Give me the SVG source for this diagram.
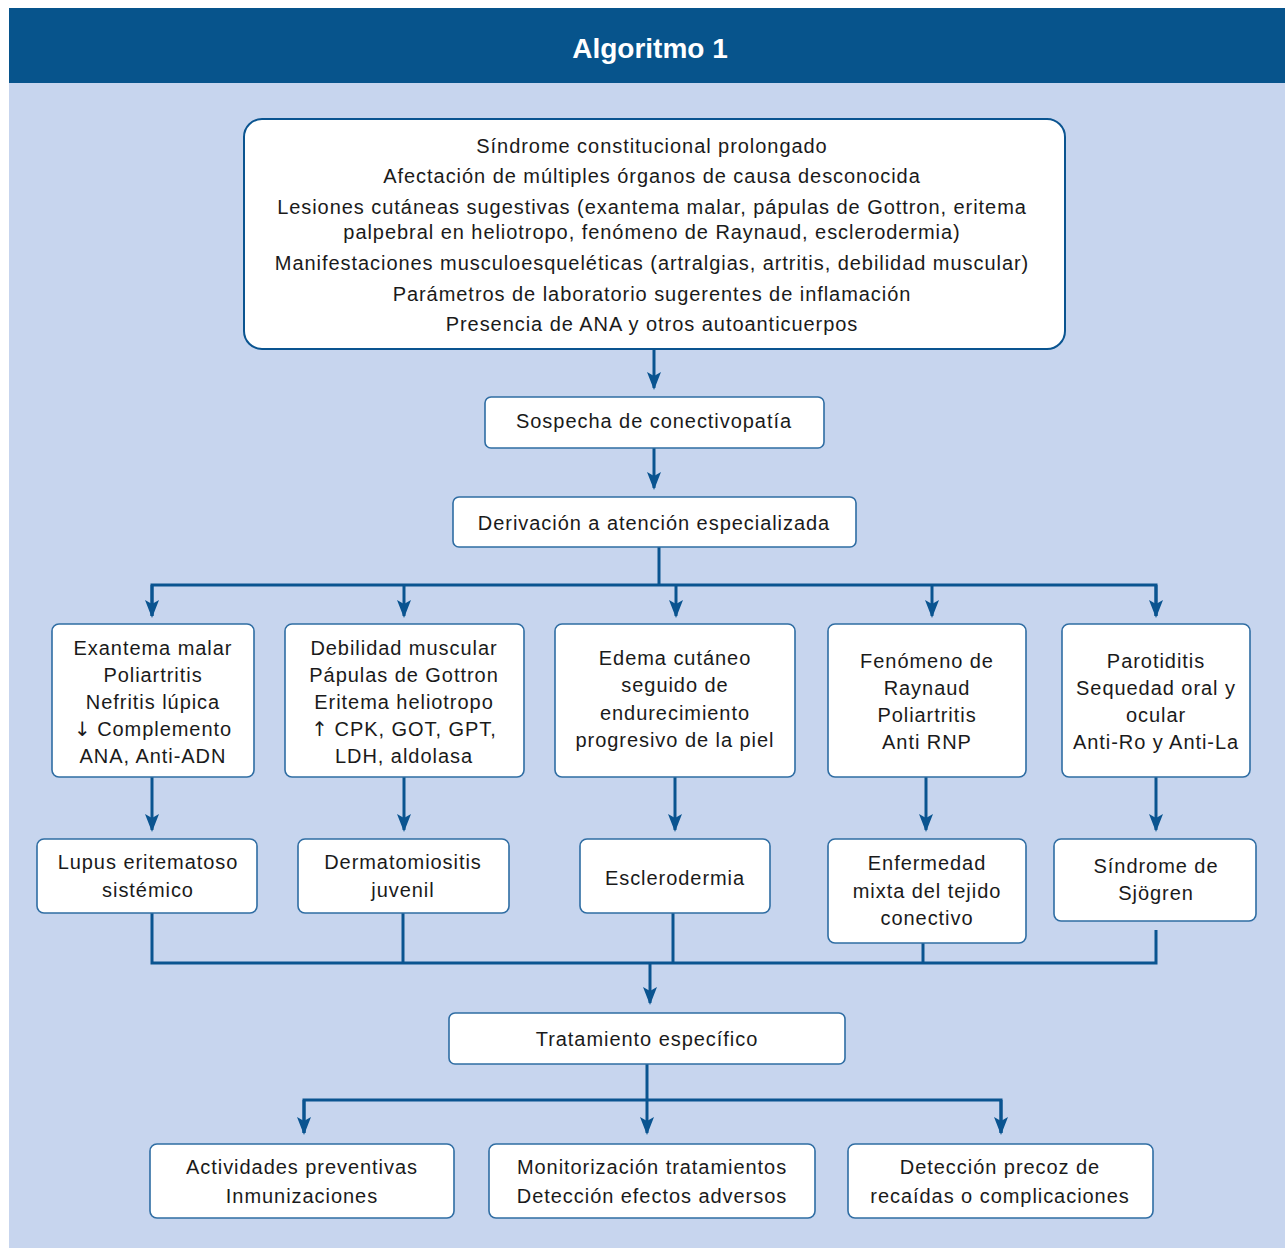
<svg xmlns="http://www.w3.org/2000/svg" width="1285" height="1248" viewBox="0 0 1285 1248">
<style>
.box{fill:#fff;stroke:#2f6da3;stroke-width:1.6}
.t{font-family:"Liberation Sans",Arial,sans-serif;font-size:20px;letter-spacing:0.95px;fill:#1a1a1a;text-anchor:middle}
.ar{font-family:"DejaVu Sans",sans-serif;letter-spacing:0}
.c{fill:none;stroke:#0a5490;stroke-width:3}
</style>
<defs>
<marker id="a" markerWidth="18" markerHeight="14" refX="16" refY="7" orient="auto" markerUnits="userSpaceOnUse" viewBox="0 0 18 14">
<path d="M0,0 L4,7 L0,14 L18,7 Z" fill="#0a5490"/>
</marker>
</defs>
<rect x="0" y="0" width="1285" height="1248" fill="#fff"/>
<rect x="9" y="83" width="1276" height="1165" fill="#c7d5ee"/>
<rect x="9" y="8" width="1276" height="75" fill="#07548c"/>
<text x="650" y="58" style="font-family:'Liberation Sans',Arial,sans-serif;font-size:28px;font-weight:bold;fill:#fff;text-anchor:middle">Algoritmo 1</text>

<g id="connectors">
<path class="c" d="M654,349 V388" marker-end="url(#a)"/>
<path class="c" d="M654,448 V488" marker-end="url(#a)"/>
<path class="c" d="M659,547 V585"/>
<path class="c" d="M152,616 V585 H1156 V616" />
<path class="c" d="M152,585 V616" marker-end="url(#a)"/>
<path class="c" d="M404,585 V616" marker-end="url(#a)"/>
<path class="c" d="M676,585 V616" marker-end="url(#a)"/>
<path class="c" d="M932,585 V616" marker-end="url(#a)"/>
<path class="c" d="M1156,585 V616" marker-end="url(#a)"/>
<path class="c" d="M152,777 V830" marker-end="url(#a)"/>
<path class="c" d="M404,777 V830" marker-end="url(#a)"/>
<path class="c" d="M675,777 V830" marker-end="url(#a)"/>
<path class="c" d="M926,777 V830" marker-end="url(#a)"/>
<path class="c" d="M1156,777 V830" marker-end="url(#a)"/>
<path class="c" d="M152,913 V963 H1156 V930"/>
<path class="c" d="M403,913 V963"/>
<path class="c" d="M673,913 V963"/>
<path class="c" d="M923,943 V963"/>
<path class="c" d="M650,963 V1003" marker-end="url(#a)"/>
<path class="c" d="M647,1064 V1100"/>
<path class="c" d="M304,1133 V1100 H1001 V1133"/>
<path class="c" d="M304,1100 V1133" marker-end="url(#a)"/>
<path class="c" d="M647,1100 V1133" marker-end="url(#a)"/>
<path class="c" d="M1001,1100 V1133" marker-end="url(#a)"/>
</g>

<g id="n-top">
<rect class="box" x="244" y="119" width="821" height="230" rx="18" style="stroke:#0a5490;stroke-width:2"/>
<text class="t" x="652" y="153">Síndrome constitucional prolongado</text>
<text class="t" x="652" y="183">Afectación de múltiples órganos de causa desconocida</text>
<text class="t" x="652" y="214">Lesiones cutáneas sugestivas (exantema malar, pápulas de Gottron, eritema</text>
<text class="t" x="652" y="239">palpebral en heliotropo, fenómeno de Raynaud, esclerodermia)</text>
<text class="t" x="652" y="270">Manifestaciones musculoesqueléticas (artralgias, artritis, debilidad muscular)</text>
<text class="t" x="652" y="301">Parámetros de laboratorio sugerentes de inflamación</text>
<text class="t" x="652" y="331">Presencia de ANA y otros autoanticuerpos</text>
</g>
<g id="n-sospecha">
<rect class="box" x="485" y="397" width="339" height="51" rx="6"/>
<text class="t" x="654" y="428">Sospecha de conectivopatía</text>
</g>
<g id="n-derivacion">
<rect class="box" x="453" y="497" width="403" height="50" rx="6"/>
<text class="t" x="654" y="530">Derivación a atención especializada</text>
</g>

<g id="n-s1">
<rect class="box" x="52" y="624" width="202" height="153" rx="7"/>
<text class="t" x="153" y="655">Exantema malar</text>
<text class="t" x="153" y="682">Poliartritis</text>
<text class="t" x="153" y="709">Nefritis lúpica</text>
<text class="t" x="153" y="736"><tspan class="ar">↓</tspan> Complemento</text>
<text class="t" x="153" y="763">ANA, Anti-ADN</text>
</g>
<g id="n-s2">
<rect class="box" x="285" y="624" width="239" height="153" rx="7"/>
<text class="t" x="404" y="655">Debilidad muscular</text>
<text class="t" x="404" y="682">Pápulas de Gottron</text>
<text class="t" x="404" y="709">Eritema heliotropo</text>
<text class="t" x="404" y="736"><tspan class="ar">↑</tspan> CPK, GOT, GPT,</text>
<text class="t" x="404" y="763">LDH, aldolasa</text>
</g>
<g id="n-s3">
<rect class="box" x="555" y="624" width="240" height="153" rx="7"/>
<text class="t" x="675" y="665">Edema cutáneo</text>
<text class="t" x="675" y="692">seguido de</text>
<text class="t" x="675" y="720">endurecimiento</text>
<text class="t" x="675" y="747">progresivo de la piel</text>
</g>
<g id="n-s4">
<rect class="box" x="828" y="624" width="198" height="153" rx="7"/>
<text class="t" x="927" y="668">Fenómeno de</text>
<text class="t" x="927" y="695">Raynaud</text>
<text class="t" x="927" y="722">Poliartritis</text>
<text class="t" x="927" y="749">Anti RNP</text>
</g>
<g id="n-s5">
<rect class="box" x="1062" y="624" width="188" height="153" rx="7"/>
<text class="t" x="1156" y="668">Parotiditis</text>
<text class="t" x="1156" y="695">Sequedad oral y</text>
<text class="t" x="1156" y="722">ocular</text>
<text class="t" x="1156" y="749">Anti-Ro y Anti-La</text>
</g>

<g id="n-d1">
<rect class="box" x="37" y="839" width="220" height="74" rx="7"/>
<text class="t" x="148" y="869">Lupus eritematoso</text>
<text class="t" x="148" y="897">sistémico</text>
</g>
<g id="n-d2">
<rect class="box" x="298" y="839" width="211" height="74" rx="7"/>
<text class="t" x="403" y="869">Dermatomiositis</text>
<text class="t" x="403" y="897">juvenil</text>
</g>
<g id="n-d3">
<rect class="box" x="580" y="839" width="190" height="74" rx="7"/>
<text class="t" x="675" y="885">Esclerodermia</text>
</g>
<g id="n-d4">
<rect class="box" x="828" y="839" width="198" height="104" rx="7"/>
<text class="t" x="927" y="870">Enfermedad</text>
<text class="t" x="927" y="898">mixta del tejido</text>
<text class="t" x="927" y="925">conectivo</text>
</g>
<g id="n-d5">
<rect class="box" x="1054" y="839" width="202" height="82" rx="7"/>
<text class="t" x="1156" y="873">Síndrome de</text>
<text class="t" x="1156" y="900">Sjögren</text>
</g>

<g id="n-tratamiento">
<rect class="box" x="449" y="1013" width="396" height="51" rx="6"/>
<text class="t" x="647" y="1046">Tratamiento específico</text>
</g>
<g id="n-b1">
<rect class="box" x="150" y="1144" width="304" height="74" rx="7"/>
<text class="t" x="302" y="1174">Actividades preventivas</text>
<text class="t" x="302" y="1203">Inmunizaciones</text>
</g>
<g id="n-b2">
<rect class="box" x="489" y="1144" width="326" height="74" rx="7"/>
<text class="t" x="652" y="1174">Monitorización tratamientos</text>
<text class="t" x="652" y="1203">Detección efectos adversos</text>
</g>
<g id="n-b3">
<rect class="box" x="848" y="1144" width="305" height="74" rx="7"/>
<text class="t" x="1000" y="1174">Detección precoz de</text>
<text class="t" x="1000" y="1203">recaídas o complicaciones</text>
</g>
</svg>
